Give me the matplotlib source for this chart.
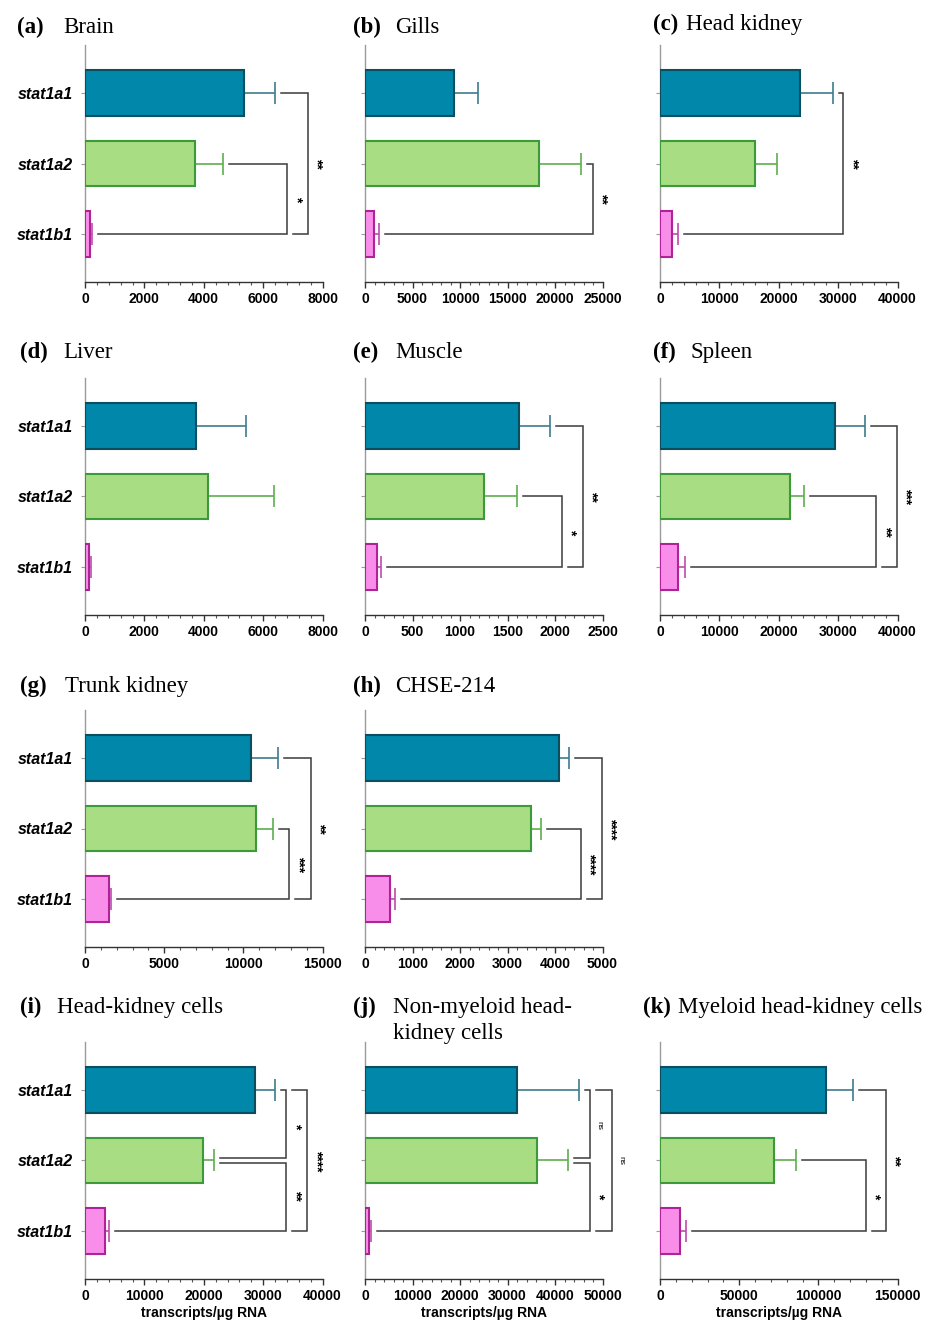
#!/usr/bin/python3
# -*- coding: utf-8 -*-
"""
stat1 transcript levels in salmon tissues / cells, horizontal bar panels
"""
import matplotlib.pyplot as plt
from matplotlib.ticker import MultipleLocator, AutoMinorLocator
import numpy as np

W, H = 940, 1321

genes = ["stat1a1", "stat1a2", "stat1b1"]
letters = ["a", "b", "c", "d", "e", "f", "g", "h", "i", "j", "k"]
tissues = ["Brain", "Gills", "Head kidney", "Liver", "Muscle", "Spleen",
           "Trunk kidney", "CHSE-214", "Head-kidney cells",
           "Non-myeloid head-\nkidney cells", "Myeloid head-kidney cells"]

# mean transcripts/ug RNA
mean_1a1 = [5340, 9320, 23620, 3730, 1616, 29510, 10470, 4090, 28660, 31900, 104800]
mean_1a2 = [3690, 18280, 15990, 4150, 1252, 21890, 10810, 3500, 19840, 36110, 71970]
mean_1b1 = [170, 985, 2020, 135, 122, 3030, 1500, 520, 3370, 905, 12630]
# error (upper side)
sem_1a1 = [1060, 2580, 5440, 1700, 330, 5000, 1690, 210, 3370, 13200, 17040]
sem_1a2 = [970, 4450, 3760, 2200, 343, 2350, 1090, 200, 1850, 6730, 13890]
sem_1b1 = [75, 455, 1060, 55, 46, 1120, 140, 110, 680, 355, 3780]

x_max = [8000, 25000, 40000, 8000, 2500, 40000, 15000, 5000, 40000, 50000, 150000]
x_step = [2000, 5000, 10000, 2000, 500, 10000, 5000, 1000, 10000, 10000, 50000]

# significance brackets: (row_a, row_b, x of bracket, label)
brackets = [
    [(1, 2, 6820, "*"), (0, 2, 7500, "**")],
    [(1, 2, 23950, "**")],
    [(0, 2, 30860, "**")],
    [],
    [(1, 2, 2069, "*"), (0, 2, 2290, "**")],
    [(1, 2, 36460, "**"), (0, 2, 39900, "***")],
    [(1, 2, 12895, "***"), (0, 2, 14267, "**")],
    [(1, 2, 4538, "****"), (0, 2, 4987, "****")],
    [(0, 1, 33880, "*"), (1, 2, 33880, "**"), (0, 2, 37470, "****")],
    [(0, 1, 47350, "ns"), (1, 2, 47350, "*"), (0, 2, 51980, "ns")],
    [(1, 2, 130050, "*"), (0, 2, 142680, "**")],
]

fill_colors = ["#0087A9", "#A9DD83", "#F98EEA"]
edge_colors = ["#0C4E60", "#3C9A3A", "#AE2398"]
err_colors = ["#3D7C8C", "#5DAE4E", "#BE4CAE"]

# layout (pixels)
col_left = [85, 365, 660]
row_top = [45, 378, 710, 1042]
ax_w, ax_h = 237.5, 237
grid = [(0, 0), (0, 1), (0, 2), (1, 0), (1, 1), (1, 2), (2, 0), (2, 1),
        (3, 0), (3, 1), (3, 2)]
label_x = [17, 353, 653, 20, 353, 653, 20, 353, 20, 353, 643]
title_x = [63, 395, 686, 63, 395, 690, 65, 395, 57, 393, 678]
title_y = [33, 33, 30, 358, 358, 358, 692, 692, 1013, 1013, 1013]

plt.rcParams['font.family'] = ['Liberation Sans', 'DejaVu Sans']

fig = plt.figure(figsize=(W / 100, H / 100), dpi=100)


def px_ax(left, top):
    return [left / W, 1 - (top + ax_h) / H, ax_w / W, ax_h / H]


for k in range(len(letters)):
    r, c = grid[k]
    ax = fig.add_axes(px_ax(col_left[c], row_top[r]))
    means = [mean_1a1[k], mean_1a2[k], mean_1b1[k]]
    sems = [sem_1a1[k], sem_1a2[k], sem_1b1[k]]
    y = np.arange(3)

    ax.barh(y, means, height=0.65, color=fill_colors, edgecolor=edge_colors,
            linewidth=1.5, zorder=3)
    for i in range(3):
        ax.errorbar(means[i], y[i], xerr=[[0], [sems[i]]], fmt='none',
                    ecolor=err_colors[i], elinewidth=1.2, capsize=8,
                    capthick=1.2, zorder=2)

    xm = x_max[k]
    ax.set_xlim(0, xm)
    ax.set_ylim(2.68, -0.68)
    ax.xaxis.set_major_locator(MultipleLocator(x_step[k]))
    ax.xaxis.set_minor_locator(AutoMinorLocator(5))

    for s in ['top', 'right']:
        ax.spines[s].set_visible(False)
    ax.spines['left'].set_color('#9a9a9a')
    ax.spines['bottom'].set_color('#333333')
    ax.spines['left'].set_linewidth(1.0)
    ax.spines['bottom'].set_linewidth(1.0)
    ax.tick_params(axis='x', which='major', length=4, width=1, color='#333333',
                   labelsize=10, pad=3)
    ax.tick_params(axis='x', which='minor', length=2, width=0.8, color='#555555')
    ax.tick_params(axis='y', length=3, width=0.8, color='#9a9a9a', pad=6)
    for lab in ax.get_xticklabels():
        lab.set_fontweight('bold')
    ax.set_yticks(y)
    if c == 0:
        ax.set_yticklabels(genes, fontsize=11.5, fontweight='bold', style='italic')
    else:
        ax.set_yticklabels([])

    if r == 3:
        ax.set_xlabel("transcripts/\u00b5g RNA", fontsize=10, fontweight='bold',
                      labelpad=2)

    # brackets
    gap = 6.0 / ax_w * xm
    dy = 0.035
    used = [[means[i] + sems[i]] for i in range(3)]
    ends = [(b[0], b[2]) for b in brackets[k]] + [(b[1], b[2]) for b in brackets[k]]
    for (ra, rb, xb, lab) in brackets[k]:
        sa = max(v for v in used[ra] if v < xb) + gap
        sb = max(v for v in used[rb] if v < xb) + gap
        ya, yb = float(ra), float(rb)
        if ends.count((ra, xb)) > 1:
            ya += dy
        if ends.count((rb, xb)) > 1:
            yb -= dy
        ax.plot([sa, xb, xb, sb], [ya, ya, yb, yb], color='#3a3a3a', lw=1.1,
                clip_on=False, zorder=4, solid_joinstyle='miter')
        used[ra].append(xb)
        used[rb].append(xb)
        if lab == "ns":
            fs, fw = 6, 'normal'
        else:
            fs, fw = 10, 'bold'
        ax.annotate(lab, xy=(xb, (ra + rb) / 2), xytext=(6.5, 0),
                    textcoords='offset points', rotation=270, ha='center',
                    va='center', fontsize=fs, fontweight=fw,
                    annotation_clip=False)

    # panel titles
    fig.text(label_x[k] / W, 1 - title_y[k] / H, "(" + letters[k] + ")",
             fontsize=16.5, fontweight='bold', family='Liberation Serif',
             ha='left', va='baseline')
    fig.text(title_x[k] / W, 1 - title_y[k] / H, tissues[k].split("\n")[0],
             fontsize=16.5, family='Liberation Serif', ha='left', va='baseline')
    if "\n" in tissues[k]:
        fig.text(title_x[k] / W, 1 - (title_y[k] + 26) / H,
                 tissues[k].split("\n")[1], fontsize=16.5,
                 family='Liberation Serif', ha='left', va='baseline')

fig.savefig("out.png", dpi=100)
